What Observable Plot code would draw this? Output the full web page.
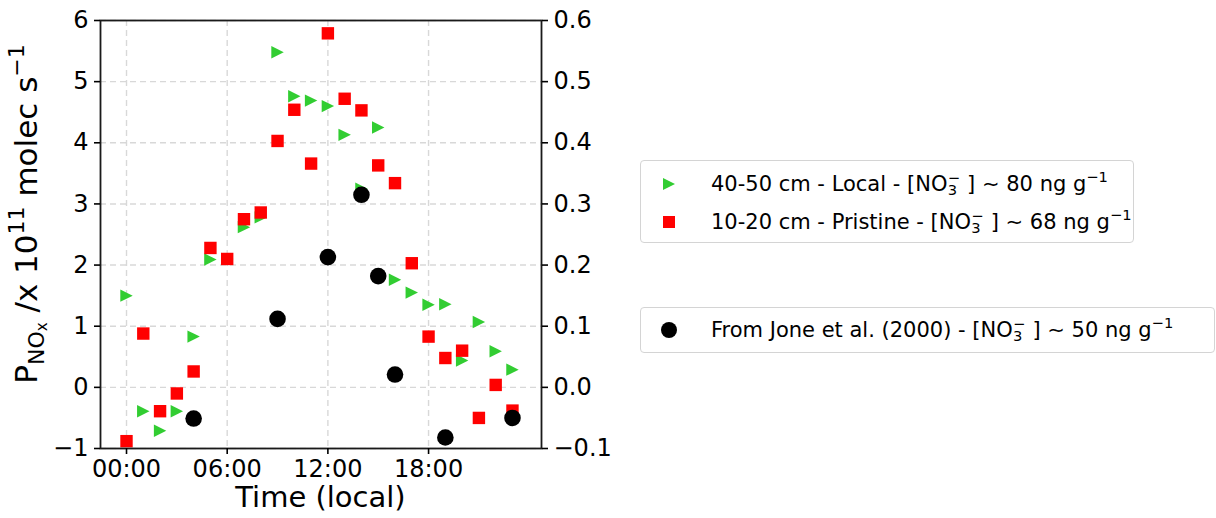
<!DOCTYPE html>
<html><head><meta charset="utf-8">
<script src="https://cdn.jsdelivr.net/npm/d3@7"></script>
<script src="https://cdn.jsdelivr.net/npm/@observablehq/plot@0.6"></script>
<style>
body{margin:0;background:#fff;font-family:"DejaVu Sans",sans-serif;}
#wrap{position:relative;width:1216px;height:518px;overflow:hidden;}
.legend{position:absolute;border:1px solid #d4d4d4;border-radius:4px;background:#fff;font-size:21px;color:#000;box-sizing:border-box;}
.item{position:absolute;left:0;height:30px;width:100%;}
.item svg{position:absolute;left:16px;top:3px;}
.item .lbl{position:absolute;left:70px;top:1px;line-height:28px;white-space:nowrap;}
.ion{position:relative;display:inline-block;width:0.62em;height:0.8em;vertical-align:baseline;}
.ion .s1,.ion .s2{position:absolute;left:0.02em;font-size:0.7em;line-height:1;}
.ion .s1{top:-0.2em;}
.ion .s2{top:0.62em;}
.sup{font-size:0.7em;vertical-align:0.6em;line-height:0;}
</style>
</head><body>
<div id="wrap"></div>
<script>
// ---- data ----
const hours = d3.range(0, 24);
const localValues = [1.5, -0.39, -0.71, -0.39, 0.83, 2.09, 2.1, 2.62, 2.78, 5.48, 4.76, 4.69, 4.6, 4.13, 3.25, 4.25, 1.76, 1.55, 1.35, 1.36, 0.44, 1.07, 0.59, 0.29];
const pristineValues = [-0.88, 0.88, -0.39, -0.1, 0.26, 2.28, 2.1, 2.75, 2.86, 4.03, 4.54, 3.66, 5.79, 4.72, 4.53, 3.63, 3.34, 2.03, 0.83, 0.48, 0.6, -0.5, 0.04, -0.38];
const joneHours = [4, 9, 12, 14, 15, 16, 19, 23];
const joneValues = [-0.051, 0.112, 0.213, 0.315, 0.182, 0.021, -0.082, -0.05]; // right axis
const xTicks = [0, 6, 12, 18];
const xTickLabels = ["00:00", "06:00", "12:00", "18:00"];
const yTicksLeft = [-1, 0, 1, 2, 3, 4, 5, 6];
const rightScaleFactor = 10; // right axis = left axis / 10

const localData = hours.map((h, i) => ({h, v: localValues[i]}));
const pristineData = hours.map((h, i) => ({h, v: pristineValues[i]}));
const joneData = joneHours.map((h, i) => ({h, v: joneValues[i]}));

const triangleRight = {
  draw(ctx, size) {
    const h = Math.sqrt(size) / 2;
    ctx.moveTo(h, 0); ctx.lineTo(-h, -h); ctx.lineTo(-h, h); ctx.closePath();
  }
};

const gridStyle = {stroke: "#c8c8c8", strokeOpacity: 0.7, strokeWidth: 1.4, strokeDasharray: "6,4"};
const fmtRight = d3.format(".1f");

const chart = Plot.plot({
  width: 1216, height: 518,
  marginLeft: 100, marginRight: 675, marginTop: 20, marginBottom: 70,
  style: {fontFamily: "DejaVu Sans", fontSize: "24px", color: "#000", background: "transparent"},
  x: {domain: [-1.55, 24.73]},
  y: {domain: [-1, 6]},
  marks: [
    Plot.gridX(xTicks, gridStyle),
    Plot.gridY(yTicksLeft, gridStyle),
    Plot.dot(localData, {x: "h", y: "v", symbol: triangleRight, r: 7, fill: "#32cd32", stroke: "none"}),
    Plot.dot(pristineData, {x: "h", y: "v", symbol: "square", r: 7, fill: "#ff0000", stroke: "none"}),
    Plot.dot(joneData, {x: "h", y: d => d.v * rightScaleFactor, symbol: "circle", r: 8.3, fill: "#000", stroke: "none"}),
    Plot.frame({stroke: "#1a1a1a", strokeWidth: 1.8}),
    Plot.axisX(xTicks, {tickFormat: (d, i) => xTickLabels[i], tickSize: 6, tickPadding: 5, strokeWidth: 1.6, label: null, fontSize: 24}),
    Plot.axisY(yTicksLeft, {anchor: "left", tickFormat: d3.format("d"), tickSize: 6, tickPadding: 6, strokeWidth: 1.6, label: null, fontSize: 24}),
    Plot.axisY(yTicksLeft, {anchor: "right", tickFormat: d => fmtRight(d / rightScaleFactor), tickSize: 6, tickPadding: 6, strokeWidth: 1.6, label: null, fontSize: 24})
  ]
});

// axis titles
const svg = d3.select(chart);
svg.append("text")
  .attr("x", 320.5).attr("y", 507)
  .attr("text-anchor", "middle")
  .attr("font-size", 29).attr("fill", "#000")
  .text("Time (local)");

const yl = svg.append("text")
  .attr("transform", "translate(37,214) rotate(-90)")
  .attr("text-anchor", "middle")
  .attr("font-size", 31).attr("fill", "#000");
yl.append("tspan").text("P");
yl.append("tspan").attr("dy", 7).attr("font-size", 22).text("NO");
yl.append("tspan").attr("dy", 3).attr("font-size", 15).text("x");
yl.append("tspan").attr("dy", -10).attr("font-size", 31).text(" /x 10");
yl.append("tspan").attr("dy", -13).attr("font-size", 22).text("11");
yl.append("tspan").attr("dy", 13).attr("font-size", 31).text(" molec s");
yl.append("tspan").attr("dy", -13).attr("font-size", 22).text("\u22121");

const wrap = document.getElementById("wrap");
wrap.appendChild(chart);

// legends
const ion = '[NO<span class="ion"><span class="s1">\u2212</span><span class="s2">3</span></span> ]';
const legendHTML = `
<div class="legend" style="left:640px;top:160px;width:494px;height:83px;">
  <div class="item" style="top:8px;">
    <svg width="24" height="24"><path d="M18,12L6,6L6,18Z" fill="#32cd32"/></svg>
    <span class="lbl">40-50 cm - Local - ${ion} \u223C 80 ng g<span class="sup">\u22121</span></span>
  </div>
  <div class="item" style="top:46px;">
    <svg width="24" height="24"><rect x="6" y="6" width="12" height="12" fill="#ff0000"/></svg>
    <span class="lbl">10-20 cm - Pristine - ${ion} \u223C 68 ng g<span class="sup">\u22121</span></span>
  </div>
</div>
<div class="legend" style="left:640px;top:307px;width:575px;height:46px;">
  <div class="item" style="top:7px;">
    <svg width="24" height="24"><circle cx="12" cy="12" r="8" fill="#000"/></svg>
    <span class="lbl">From Jone et al. (2000) - ${ion} \u223C 50 ng g<span class="sup">\u22121</span></span>
  </div>
</div>`;
wrap.insertAdjacentHTML("beforeend", legendHTML);
</script>
</body></html>
